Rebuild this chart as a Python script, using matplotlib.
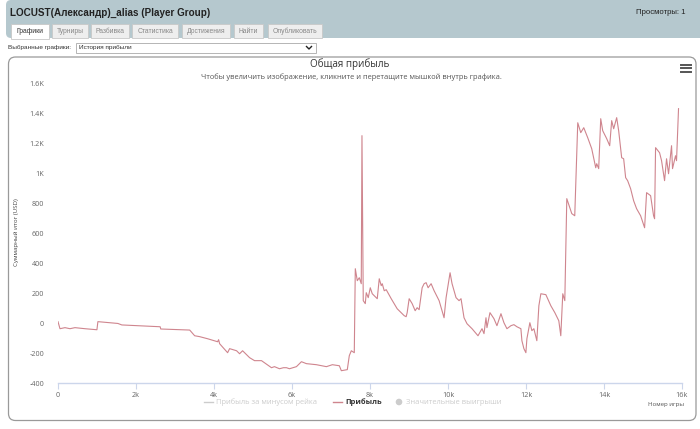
import matplotlib
matplotlib.use("Agg")
import matplotlib.pyplot as plt
from matplotlib.patches import FancyBboxPatch, Rectangle, Circle
from matplotlib.lines import Line2D

# ---------------- data ----------------
games = [0, 51, 179, 307, 435, 691, 998, 1023, 1535, 1637, 2619, 2635, 3377, 3504, 3632,
         3837, 4093, 4118, 4144, 4349, 4400, 4579, 4656, 4733, 4912, 5039, 5218, 5474, 5551,
         5679, 5781, 5858, 5935, 6114, 6242, 6370, 6626, 6882, 7035, 7214, 7265, 7418, 7469,
         7521, 7597, 7623, 7674, 7725, 7776, 7794, 7827, 7879, 7904, 7955, 8007, 8058, 8186,
         8237, 8288, 8314, 8365, 8416, 8544, 8697, 8876, 8927, 8953, 9004, 9081, 9158, 9209,
         9260, 9337, 9388, 9439, 9490, 9567, 9644, 9772, 9899, 9951, 10053, 10104, 10206,
         10283, 10334, 10411, 10488, 10616, 10769, 10872, 10923, 10974, 10999, 11076, 11178,
         11255, 11358, 11434, 11511, 11613, 11690, 11767, 11869, 11895, 11946, 11997, 12023,
         12099, 12151, 12202, 12278, 12330, 12381, 12509, 12637, 12739, 12841, 12892, 12943,
         12995, 13046, 13174, 13250, 13327, 13404, 13481, 13532, 13583, 13685, 13788, 13813,
         13864, 13916, 13967, 14069, 14146, 14197, 14248, 14325, 14376, 14453, 14504, 14555,
         14606, 14683, 14760, 14836, 14939, 15041, 15092, 15195, 15271, 15297, 15322, 15425,
         15476, 15553, 15604, 15655, 15732, 15757, 15834, 15860, 15911]
profit = [9, -38, -31, -38, -31, -38, -45, 9, -3, -13, -25, -40, -47, -85, -91,
          -105, -125, -111, -138, -198, -171, -185, -205, -185, -231, -251, -251, -298, -291,
          -305, -298, -298, -305, -291, -258, -271, -278, -291, -278, -285, -318, -311, -218,
          -185, -198, 362, 282, 302, 262, 1249, 149, 129, 202, 169, 235, 195, 162,
          295, 249, 262, 215, 222, 162, 95, 49, 42, 69, 162, 129, 82, 102,
          89, 235, 262, 269, 235, 262, 215, 149, 35, 169, 335, 262, 169,
          149, 162, 35, -5, -38, -85, -38, -71, 35, -31, 69, 29,
          -18, 62, 2, -38, -18, -11, -25, -38, -118, -171, -198, -105,
          2, -51, -38, -118, 115, 195, 189, 115, 69, 15, -85, 195,
          149, 829, 729, 715, 1335, 1269, 1302, 1269, 1235, 1162, 1035, 1062,
          1029, 1362, 1282, 1229, 1182, 1349, 1295, 1369, 1282, 1102, 1095, 969,
          949, 895, 815, 762, 715, 635, 869, 849, 715, 695, 1169, 1135,
          1082, 949, 1095, 995, 1182, 1029, 1115, 1082, 1429]
assert len(games) == len(profit), (len(games), len(profit))

x_ticks = [0, 2000, 4000, 6000, 8000, 10000, 12000, 14000, 16000]
x_tick_labels = ["0", "2k", "4k", "6k", "8k", "10k", "12k", "14k", "16k"]
y_ticks = [-400, -200, 0, 200, 400, 600, 800, 1000, 1200, 1400, 1600]
y_tick_labels = ["-400", "-200", "0", "200", "400", "600", "800", "1K", "1.2K", "1.4K", "1.6K"]

tabs = ["Графики", "Турниры", "Разбивка", "Статистика", "Достижения", "Найти", "Опубликовать"]
legend_items = ["Прибыль за минусом рейка", "Прибыль", "Значительные выигрыши"]

FONT = ["Liberation Sans", "DejaVu Sans"]
CHART_FONT = ["Open Sans", "DejaVu Sans"]
plt.rcParams["font.family"] = FONT

LINE_COLOR = "#cf858e"

W, H = 700, 429
fig = plt.figure(figsize=(7.0, 4.29), dpi=100)
fig.patch.set_facecolor("white")

# background overlay in pixel coordinates
bg = fig.add_axes([0, 0, 1, 1])
bg.set_xlim(0, W)
bg.set_ylim(H, 0)
bg.axis("off")
bg.set_zorder(0)

# header band
bg.add_patch(FancyBboxPatch((6, 0), 700, 38, boxstyle="round,pad=0,rounding_size=5",
                            facecolor="#b5c8ce", edgecolor="none"))
bg.text(10, 13, "LOCUST(Александр)_alias (Player Group)", fontsize=7.1, fontweight="bold",
        color="#222222", va="center", ha="left")
bg.text(685, 13, "Просмотры: 1", fontsize=5.6, color="#222222", va="center", ha="right")

# tabs
tab_x = [(11, 49), (52, 88), (91, 129), (132, 178), (182, 230), (234, 263), (268, 322)]
for (x0, x1), name in zip(tab_x, tabs):
    active = name == "Графики"
    bg.add_patch(Rectangle((x0, 24), x1 - x0, 15 if active else 14,
                           facecolor="white" if active else "#eeeeee",
                           edgecolor="#c8c8c8", linewidth=0.6))
    bg.text((x0 + x1) / 2, 31.5, name, fontsize=4.9,
            color="#333333" if active else "#888888", ha="center", va="center")

# selector row
bg.text(8, 48, "Выбранные графики:", fontsize=4.6, color="#333333", ha="left", va="center")
bg.add_patch(Rectangle((76, 43), 240, 10, facecolor="white", edgecolor="#aaaaaa", linewidth=0.6))
bg.text(79, 48, "История прибыли", fontsize=4.6, color="#333333", ha="left", va="center")
bg.add_line(Line2D([306.5, 309, 311.5], [46.5, 49, 46.5], color="#222222", linewidth=1.0))

# chart panel
bg.add_patch(FancyBboxPatch((8.5, 57), 687.5, 363.5, boxstyle="round,pad=0,rounding_size=7",
                            facecolor="white", edgecolor="#9a9a9a", linewidth=0.9))
bg.text(350, 64.5, "Общая прибыль", fontsize=7.1, color="#333333", ha="center", va="center",
        family=CHART_FONT)
bg.text(351, 77, "Чтобы увеличить изображение, кликните и перетащите мышкой внутрь графика.",
        fontsize=5.4, color="#555555", ha="center", va="center", family=CHART_FONT)
for yy in (64.5, 68, 71.5):
    bg.add_line(Line2D([681, 691], [yy, yy], color="#555555", linewidth=1.4))

bg.text(17, 232, "Суммарный итог (USD)", fontsize=4.4, color="#444444", rotation=90,
        ha="center", va="center", family=CHART_FONT)

# legend
lx = 204
bg.add_line(Line2D([lx, lx + 9], [402, 402], color="#cccccc", linewidth=1.0))
bg.text(lx + 12, 402, legend_items[0], fontsize=5.4, color="#cccccc", ha="left", va="center",
        family=CHART_FONT)
lx2 = 333
bg.add_line(Line2D([lx2, lx2 + 9], [402, 402], color=LINE_COLOR, linewidth=1.0))
bg.text(lx2 + 12, 402, legend_items[1], fontsize=5.4, color="#333333", fontweight="bold",
        ha="left", va="center", family=CHART_FONT)
lx3 = 399
bg.add_patch(Circle((lx3, 402), 3.3, facecolor="#cccccc", edgecolor="none"))
bg.text(lx3 + 7, 402, legend_items[2], fontsize=5.4, color="#cccccc", ha="left", va="center",
        family=CHART_FONT)
bg.text(666, 404.5, "Номер игры", fontsize=4.3, color="#555555", ha="center", va="center",
        family=CHART_FONT)

# main plot
left, right, top, bottom = 58, 682, 83, 383
ax = fig.add_axes([left / W, (H - bottom) / H, (right - left) / W, (bottom - top) / H])
ax.set_zorder(2)
ax.set_facecolor("none")
ax.plot(games, profit, color=LINE_COLOR, linewidth=0.8)
ax.set_xlim(0, 16000)
ax.set_ylim(-400, 1600)
ax.set_xticks(x_ticks)
ax.set_xticklabels(x_tick_labels)
ax.set_yticks(y_ticks)
ax.set_yticklabels(y_tick_labels)
for s in ("top", "right", "left"):
    ax.spines[s].set_visible(False)
ax.spines["bottom"].set_color("#ccd6eb")
ax.spines["bottom"].set_linewidth(1.0)
ax.tick_params(axis="y", length=0, pad=10, labelsize=5.2, labelcolor="#666666")
ax.tick_params(axis="x", length=4, width=0.8, color="#ccd6eb", pad=2.5, labelsize=5.2,
               labelcolor="#666666")
for lab in ax.get_xticklabels() + ax.get_yticklabels():
    lab.set_family(CHART_FONT)

fig.savefig("out.png", dpi=100)
